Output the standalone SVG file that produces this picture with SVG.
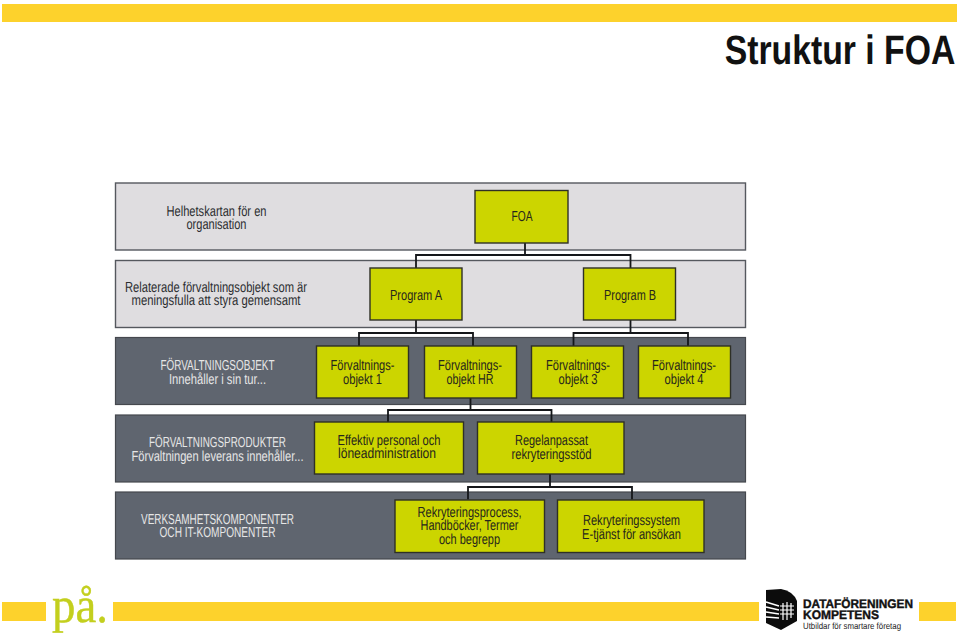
<svg xmlns="http://www.w3.org/2000/svg" width="960" height="637" viewBox="0 0 960 637">
<style>
text{font-family:"Liberation Sans",Arial,sans-serif;text-anchor:middle;font-size:14.500px;fill:#26261c;text-rendering:geometricPrecision}
.band-l{fill:#dfdde0;stroke:#55585e;stroke-width:1.4}
.band-d{fill:#5f656f;stroke:#45484e;stroke-width:1.2}
.box{fill:#ccd500;stroke:#2e3026;stroke-width:1.4}
.wire{fill:none;stroke:#15171a;stroke-width:1.8}
.bar{fill:#fdd22c}
text.w{fill:#e6e6e6}
text.g{fill:#2c2e30}
</style>
<rect x="0" width="960" height="637" fill="#fff"/>
<g id="bars">
<rect class="bar" x="2" y="4" width="955" height="18"/>
<rect class="bar" x="2" y="602" width="44" height="19"/>
<rect class="bar" x="113" y="602" width="646" height="19"/>
<rect class="bar" x="919" y="602" width="37" height="19"/>
</g>
<text id="title" transform="translate(840,64) scale(.824,1)" textLength="280" lengthAdjust="spacingAndGlyphs" style="font-size:41px;font-weight:700;fill:#111">Struktur i FOA</text>
<g id="band1"><rect class="band-l" x="115.500" y="183" width="630" height="67"/>
<text class="g"><tspan x="216.500" y="215.500" textLength="100" lengthAdjust="spacingAndGlyphs">Helhetskartan för en</tspan><tspan x="216.500" y="228.500" textLength="60" lengthAdjust="spacingAndGlyphs">organisation</tspan></text></g>
<g id="band2"><rect class="band-l" x="115.500" y="260.500" width="630" height="67"/>
<text class="g"><tspan x="216" y="292" textLength="182" lengthAdjust="spacingAndGlyphs">Relaterade förvaltningsobjekt som är</tspan><tspan x="216" y="305" textLength="169" lengthAdjust="spacingAndGlyphs">meningsfulla att styra gemensamt</tspan></text></g>
<g id="band3"><rect class="band-d" x="115.500" y="337.500" width="630" height="67"/>
<text class="w"><tspan x="217.500" y="370" textLength="114" lengthAdjust="spacingAndGlyphs">FÖRVALTNINGSOBJEKT</tspan><tspan x="217.500" y="384" textLength="97" lengthAdjust="spacingAndGlyphs">Innehåller i sin tur...</tspan></text></g>
<g id="band4"><rect class="band-d" x="115.500" y="415" width="630" height="67"/>
<text class="w"><tspan x="217.500" y="447" textLength="137" lengthAdjust="spacingAndGlyphs">FÖRVALTNINGSPRODUKTER</tspan><tspan x="217.500" y="461" textLength="172" lengthAdjust="spacingAndGlyphs">Förvaltningen leverans innehåller...</tspan></text></g>
<g id="band5"><rect class="band-d" x="115.500" y="492" width="630" height="67"/>
<text class="w"><tspan x="217.500" y="524" textLength="153" lengthAdjust="spacingAndGlyphs">VERKSAMHETSKOMPONENTER</tspan><tspan x="217.500" y="537" textLength="116" lengthAdjust="spacingAndGlyphs">OCH IT-KOMPONENTER</tspan></text></g>
<g id="connectors">
<path class="wire" d="M525 243V255M416 268V255H630.500V268"/>
<path class="wire" d="M416 320V333M359 346V333H473V346"/>
<path class="wire" d="M630.500 320V333M573.500 346V333H688V346"/>
<path class="wire" d="M470.500 398V410M388 422V410H551.500V422"/>
<path class="wire" d="M550 474V487M468 499.500V487H632V499.500"/>
</g>
<g id="foa"><rect class="box" x="475" y="190.500" width="93" height="52.500"/><text x="522" y="221" textLength="21" lengthAdjust="spacingAndGlyphs">FOA</text></g>
<g id="program-a"><rect class="box" x="370" y="268" width="92" height="52"/><text x="416" y="299.500" textLength="52" lengthAdjust="spacingAndGlyphs">Program A</text></g>
<g id="program-b"><rect class="box" x="583.500" y="268" width="92" height="52"/><text x="630" y="299.500" textLength="52" lengthAdjust="spacingAndGlyphs">Program B</text></g>
<g id="objekt-1"><rect class="box" x="316.500" y="346" width="92" height="52"/><text><tspan x="362.500" y="370" textLength="64" lengthAdjust="spacingAndGlyphs">Förvaltnings-</tspan><tspan x="362.500" y="384" textLength="39" lengthAdjust="spacingAndGlyphs">objekt 1</tspan></text></g>
<g id="objekt-hr"><rect class="box" x="424.500" y="346" width="92" height="52"/><text><tspan x="470" y="370" textLength="64" lengthAdjust="spacingAndGlyphs">Förvaltnings-</tspan><tspan x="470" y="384" textLength="47" lengthAdjust="spacingAndGlyphs">objekt HR</tspan></text></g>
<g id="objekt-3"><rect class="box" x="531.500" y="346" width="92" height="52"/><text><tspan x="578" y="370" textLength="64" lengthAdjust="spacingAndGlyphs">Förvaltnings-</tspan><tspan x="578" y="384" textLength="39" lengthAdjust="spacingAndGlyphs">objekt 3</tspan></text></g>
<g id="objekt-4"><rect class="box" x="638.500" y="346" width="92" height="52"/><text><tspan x="684" y="370" textLength="64" lengthAdjust="spacingAndGlyphs">Förvaltnings-</tspan><tspan x="684" y="384" textLength="39" lengthAdjust="spacingAndGlyphs">objekt 4</tspan></text></g>
<g id="produkt-1"><rect class="box" x="314.500" y="422" width="149" height="52"/><text><tspan x="389" y="445" textLength="103" lengthAdjust="spacingAndGlyphs">Effektiv personal och</tspan><tspan x="387" y="458" textLength="98" lengthAdjust="spacingAndGlyphs">löneadministration</tspan></text></g>
<g id="produkt-2"><rect class="box" x="477.500" y="422" width="146.500" height="52"/><text><tspan x="551.500" y="445" textLength="73" lengthAdjust="spacingAndGlyphs">Regelanpassat</tspan><tspan x="551.500" y="459" textLength="80" lengthAdjust="spacingAndGlyphs">rekryteringsstöd</tspan></text></g>
<g id="komponent-1"><rect class="box" x="395" y="500" width="149.500" height="52.500"/><text><tspan x="469.500" y="517" textLength="104" lengthAdjust="spacingAndGlyphs">Rekryteringsprocess,</tspan><tspan x="469.500" y="530" textLength="98" lengthAdjust="spacingAndGlyphs">Handböcker, Termer</tspan><tspan x="469.500" y="544" textLength="61" lengthAdjust="spacingAndGlyphs">och begrepp</tspan></text></g>
<g id="komponent-2"><rect class="box" x="557.500" y="500" width="146.500" height="52.500"/><text><tspan x="631.500" y="525" textLength="97" lengthAdjust="spacingAndGlyphs">Rekryteringssystem</tspan><tspan x="631.500" y="539" textLength="99" lengthAdjust="spacingAndGlyphs">E-tjänst för ansökan</tspan></text></g>
<text id="pa" x="80" y="622" textLength="56" lengthAdjust="spacingAndGlyphs" style="font-family:'Liberation Serif',serif;font-size:50px;fill:#c3cf1e;stroke:#c3cf1e;stroke-width:.4">på.</text>
<g id="logo">
<path d="M766 590L781 589Q793 591 797 601V621L781 630L766 623Z" fill="#0c0c0c"/>
<path d="M766 602L779 606M766 607L779 610M766 612L779 614M766 617L779 618" stroke="#fff" stroke-width="1.5" fill="none"/>
<path d="M783 603V620M787 602V620M791 603V618M780 606H794M780 610H794M780 614H794" stroke="#fff" stroke-width="1.2" fill="none"/>
<text style="font-weight:700;fill:#111;stroke:#111;stroke-width:.4;font-size:12.500px"><tspan x="858" y="608" textLength="110" lengthAdjust="spacingAndGlyphs">DATAFÖRENINGEN</tspan><tspan x="841" y="619" textLength="76" lengthAdjust="spacingAndGlyphs">KOMPETENS</tspan></text>
<text x="852" y="629" textLength="98" lengthAdjust="spacingAndGlyphs" style="font-size:9px;fill:#222">Utbildar för smartare företag</text>
</g>
</svg>
